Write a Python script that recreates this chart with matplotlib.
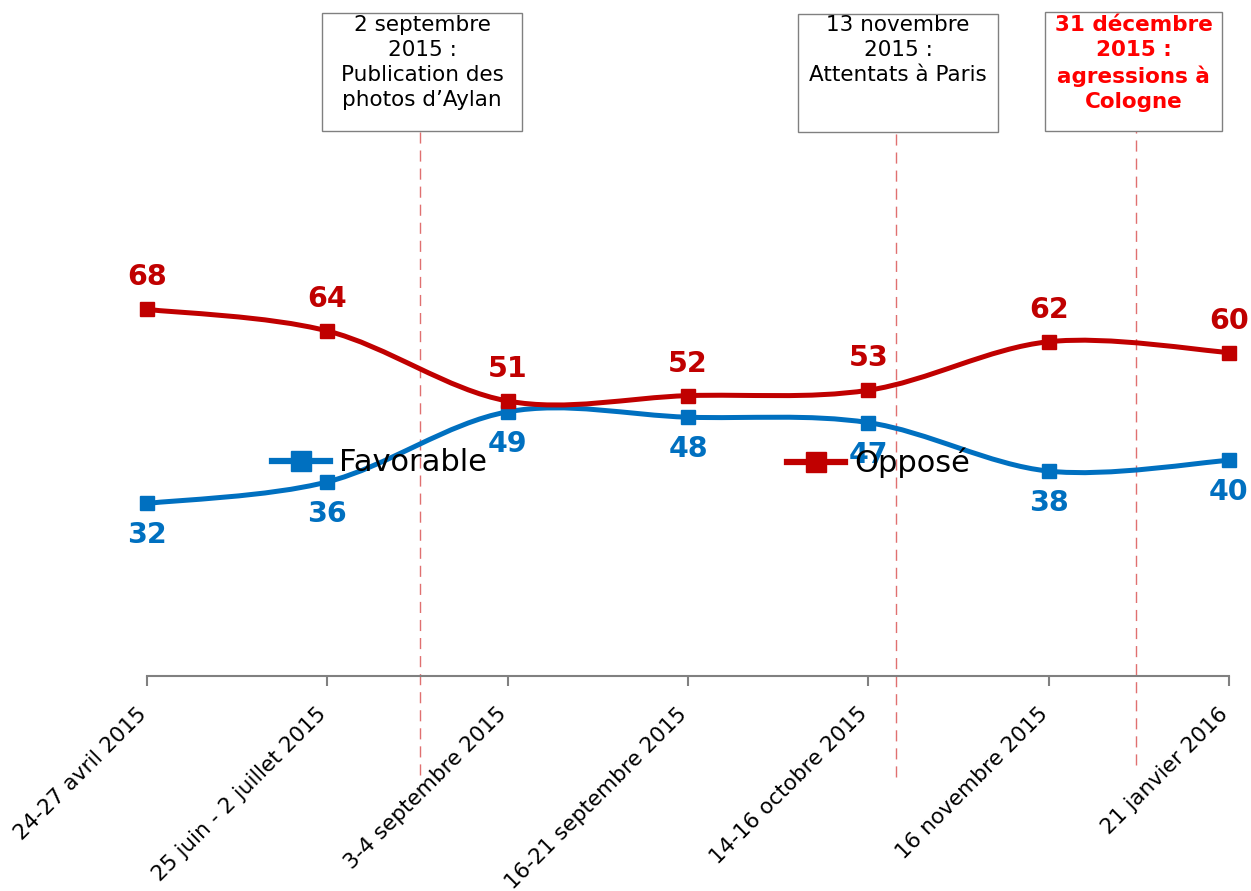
import numpy as np
import matplotlib
matplotlib.use("Agg")
import matplotlib.pyplot as plt
from matplotlib.path import Path
from matplotlib.patches import PathPatch, Rectangle
from matplotlib.lines import Line2D
import matplotlib.transforms as mtransforms

# data
dates = ['24-27 avril 2015', '25 juin - 2 juillet 2015', '3-4 septembre 2015',
         '16-21 septembre 2015', '14-16 octobre 2015', '16 novembre 2015',
         '21 janvier 2016']
favorable = [32, 36, 49, 48, 47, 38, 40]
oppose = [68, 64, 51, 52, 53, 62, 60]

# events placed between the surveys (category position)
event_pos = [1.515, 4.153, 5.484]
event_text = ['2 septembre\n2015 :\nPublication des\nphotos d\u2019Aylan',
              '13 novembre\n2015 :\nAttentats \u00e0 Paris',
              '31 d\u00e9cembre\n2015 :\nagressions \u00e0\nCologne']

blue = '#0070C0'
red = '#C00000'
W, H = 1251, 891


def fx(px):
    return px / W


def fy(py):
    return 1 - py / H


def smooth_path(xs, ys):
    # catmull-rom style bezier, like the smoothed lines in excel
    p = np.column_stack([xs, ys]).astype(float)
    pts = np.vstack([p[0], p, p[-1]])
    verts = [p[0]]
    codes = [Path.MOVETO]
    for i in range(1, len(pts) - 2):
        c1 = pts[i] + (pts[i + 1] - pts[i - 1]) / 6
        c2 = pts[i + 1] - (pts[i + 2] - pts[i]) / 6
        verts += [c1, c2, pts[i + 1]]
        codes += [Path.CURVE4] * 3
    return Path(verts, codes)


fig = plt.figure(figsize=(W / 100, H / 100), dpi=100)
ax = fig.add_axes([fx(147), fy(676), fx(1229) - fx(147), fy(29) - fy(676)])
x = np.arange(len(dates))

for vals, col, lab, off in [(favorable, blue, 'Favorable', -23),
                            (oppose, red, 'Oppos\u00e9', 23)]:
    ax.add_patch(PathPatch(smooth_path(x, vals), fill=False, edgecolor=col,
                           lw=3.6, capstyle='round', zorder=3, clip_on=False))
    ax.plot(x, vals, ls='none', marker='s', ms=10, color=col, zorder=4,
            clip_on=False)
    for xi, v in zip(x, vals):
        ax.annotate(str(v), (xi, v), xytext=(0, off), textcoords='offset points',
                    ha='center', va='center', color=col, fontsize=20.5,
                    fontweight='bold', annotation_clip=False)

ax.set_xlim(0, 6)
ax.set_ylim(0, 120)
ax.set_yticks([])
for s in ['left', 'right', 'top']:
    ax.spines[s].set_visible(False)
ax.spines['bottom'].set_color('#808080')
ax.spines['bottom'].set_linewidth(1.5)
ax.set_xticks(x)
ax.set_xticklabels(dates, rotation=45, ha='right', va='center',
                   rotation_mode='anchor', fontsize=15.5)
ax.tick_params(axis='x', direction='out', length=7, width=1.5,
               color='#808080', pad=18)
shift = mtransforms.ScaledTranslation(-4 / 100, 0, fig.dpi_scale_trans)
for t in ax.get_xticklabels():
    t.set_transform(t.get_transform() + shift)

# event lines
trans = mtransforms.blended_transform_factory(ax.transData, ax.transAxes)
line_ext = [(0.872, -0.153), (0.867, -0.156), (0.883, -0.138)]
for pos, (y1, y0) in zip(event_pos, line_ext):
    ax.plot([pos, pos], [y0, y1], transform=trans, color='#E07070', lw=1,
            ls=(0, (8, 5)), clip_on=False, zorder=2)

# event boxes
boxes = [(322, 13, 200, 118), (798, 14, 200, 118), (1045, 12, 177, 119)]
for (bx, by, bw, bh), txt, i in zip(boxes, event_text, range(3)):
    fig.patches.append(Rectangle((fx(bx), fy(by + bh)), bw / W, bh / H,
                                 transform=fig.transFigure, fill=True,
                                 facecolor='white', edgecolor='#808080',
                                 lw=1, zorder=5))
    bold = i == 2
    fig.text(fx(bx + bw / 2), fy(15), txt, ha='center', va='top',
             fontsize=15.5, linespacing=1.32, zorder=6,
             color='#FF0000' if bold else 'black',
             fontweight='bold' if bold else 'normal')

# legend, two entries spread across the plot
for col, lab, px in [(blue, 'Favorable', 272), (red, 'Oppos\u00e9', 787)]:
    h = Line2D([], [], color=col, lw=4.5, marker='s', ms=14)
    leg = fig.legend([h], [lab], loc='center left',
                     bbox_to_anchor=(fx(px), fy(463)), frameon=False,
                     fontsize=22, handlelength=1.9, handletextpad=0.3,
                     borderpad=0, borderaxespad=0)
    leg.set_zorder(7)

fig.savefig('out.png', dpi=100)
